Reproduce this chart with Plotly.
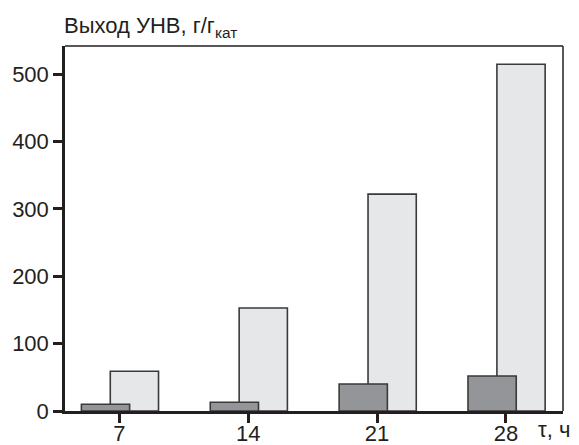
import plotly.graph_objects as go

hours = [7, 14, 21, 28]
tick_labels = ["7", "14", "21", "28"]
dark_values = [10, 13, 40, 52]
light_values = [59, 153, 322, 515]

FONT = "Liberation Sans"
fig = go.Figure()
fig.add_trace(go.Bar(
    x=hours, y=light_values, width=2.62, offset=-0.49,
    marker=dict(color="#e6e7e8", line=dict(color="#3a3a3a", width=1.6)),
    showlegend=False))
fig.add_trace(go.Bar(
    x=hours, y=dark_values, width=2.62, offset=-2.06,
    marker=dict(color="#939598", line=dict(color="#3a3a3a", width=1.6)),
    showlegend=False))

# page body has an 8px margin, so the figure is laid out shifted by -8px
fig.update_layout(
    width=579, height=445,
    margin=dict(l=57, r=24, t=38, b=42, autoexpand=False),
    barmode="overlay",
    plot_bgcolor="white", paper_bgcolor="white",
    font=dict(family=FONT, size=22, color="#231f20"),
    xaxis=dict(range=[4.05, 31.1], tickvals=hours, ticktext=tick_labels,
               automargin=False, ticklabelstandoff=-8,
               showgrid=False, zeroline=False, showline=True, linewidth=2.5,
               linecolor="#231f20", ticks="outside", ticklen=9, tickwidth=2.5,
               tickcolor="#231f20"),
    yaxis=dict(range=[0, 542], tickvals=[0, 100, 200, 300, 400, 500],
               automargin=False,
               showgrid=False, zeroline=False, showline=True, linewidth=2.5,
               linecolor="#231f20", ticks="outside", ticklen=9, tickwidth=2.5,
               tickcolor="#231f20"),
    shapes=[
        dict(type="line", xref="paper", yref="paper", x0=0, x1=1, y0=1, y1=1,
             line=dict(color="#231f20", width=1.5)),
        dict(type="line", xref="paper", yref="paper", x0=1, x1=1, y0=0, y1=1,
             line=dict(color="#231f20", width=1.5)),
    ],
    annotations=[
        dict(text="Выход УНВ, г/г<sub>кат</sub>", xref="paper", yref="paper",
             x=0, y=1, xanchor="left", yanchor="bottom", yshift=3, xshift=-3,
             showarrow=False, font=dict(size=22)),
        dict(text="τ, ч", xref="paper", yref="paper", x=1.018, y=0,
             xanchor="right", yanchor="top", yshift=-4, showarrow=False,
             font=dict(size=22)),
    ],
)

fig.write_html("out.html")
